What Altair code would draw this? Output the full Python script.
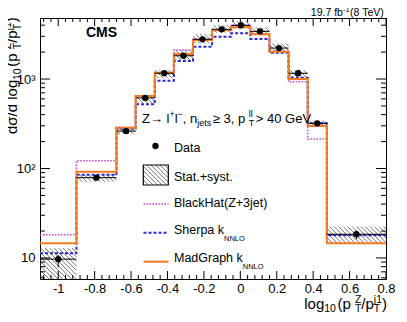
import altair as alt
import numpy as np
import pandas as pd

# ---------------- data ----------------
bin_edges = [-1.1, -0.9, -0.68, -0.575, -0.47, -0.365, -0.26, -0.155, -0.05,
             0.055, 0.16, 0.265, 0.37, 0.475, 0.8]
data_vals = [9.7, 79, 262, 615, 1160, 1820, 2780, 3590, 3980, 3410, 2220, 1160, 320, 18.4]
data_lo = [7.9, 76, 254, 600, 1140, 1790, 2740, 3540, 3930, 3360, 2190, 1140, 314, 16.2]
data_hi = [10.8, 82, 270, 630, 1180, 1850, 2820, 3640, 4030, 3460, 2250, 1180, 326, 20.2]
band_lo = [4.0, 71, 243, 540, 1020, 1630, 2500, 3300, 3660, 3100, 2020, 1020, 298, 14.6]
band_hi = [12.9, 86.6, 281, 662, 1260, 2110, 3180, 4010, 4440, 3780, 2500, 1260, 343, 22.4]
madgraph = [14.6, 92, 286, 646, 1175, 1900, 2730, 3520, 3790, 3160, 2020, 1000, 298, 14.6]
sherpa = [11.3, 85, 278, 522, 957, 1590, 2300, 2970, 3240, 2800, 1970, 1035, 320, 18.0]
blackhat = [18.2, 122, 290, 640, 1175, 2110, 2780, 3560, 4010, 3200, 2050, 933, 214, 18.0]

x_major = [-1, -0.8, -0.6, -0.4, -0.2, 0, 0.2, 0.4, 0.6, 0.8]
y_major = [10, 100, 1000]
y_minor = [6, 7, 8, 9, 20, 30, 40, 50, 60, 70, 80, 90,
           200, 300, 400, 500, 600, 700, 800, 900, 2000, 3000, 4000]

# ---------------- layout constants ----------------
FONT = "Liberation Sans"
X_MIN, X_MAX = -1.1, 0.8
Y_MIN, Y_MAX = 5.82, 4810.0
PAD_L, PAD_T, PAD_R, PAD_B = 32, 10, 13, 35
W, H = 346, 261
OX, OY = 8 + PAD_L, 8 + PAD_T          # page position of the plot origin
ORANGE = "#f47a22"
BLUE = "#2a2ad0"
MAGENTA = "#cc44cc"
HATCH = "#555555"

x_minor = [round(v, 2) for v in np.arange(-1.08, 0.8, 0.04)
           if min(abs(v - m) for m in x_major) > 1e-6]

KX = W / (X_MAX - X_MIN)
LT, LB = np.log10(Y_MAX), np.log10(Y_MIN)
KY = H / (LT - LB)


def px(page_x):
    return page_x - OX


def py(page_y):
    return page_y - OY


def to_px(x, y):
    return (x - X_MIN) * KX, (LT - np.log10(y)) * KY


def to_data(qx, qy):
    return X_MIN + qx / KX, 10 ** (LT - qy / KY)


def hatch_rows(x0, x1, lo, hi, step=4.5):
    px0, py1 = to_px(x0, lo)
    px1, py0 = to_px(x1, hi)
    rows = []
    c = np.floor((py0 - px1) / step) * step
    while c <= py1 - px0:
        a = max(px0, py0 - c)
        b = min(px1, py1 - c)
        if b - a > 0.3:
            xa, ya = to_data(a, a + c)
            xb, yb = to_data(b, b + c)
            rows.append(dict(x=xa, y=ya, x2=xb, y2=yb))
        c += step
    return rows


XS = alt.Scale(domain=[X_MIN, X_MAX], nice=False, zero=False)
YS = alt.Scale(type="log", domain=[Y_MIN, Y_MAX], nice=False)
X_AXIS = alt.Axis(values=x_major, labelExpr="'' + datum.value", ticks=False, domain=False,
                  grid=False, title=None, labelFont=FONT, labelFontSize=13, labelColor="black",
                  labelPadding=3, labelFlush=False, labelOverlap=False, labelBaseline="top")
Y_AXIS = alt.Axis(values=y_major,
                  labelExpr="datum.value >= 1000 ? '10³' : datum.value >= 100 ? '10²' : '10'",
                  ticks=False, domain=False, grid=False, title=None, labelFont=FONT,
                  labelFontSize=13, labelColor="black", labelPadding=5, labelFlush=False,
                  labelOverlap=False, labelBaseline="middle")


def xenc(f="x"):
    return alt.X(f"{f}:Q", scale=XS, axis=X_AXIS)


def yenc(f="y"):
    return alt.Y(f"{f}:Q", scale=YS, axis=Y_AXIS)


layers = []

# hatched uncertainty band
hrows = []
for i in range(len(data_vals)):
    hrows += hatch_rows(bin_edges[i], bin_edges[i + 1], band_lo[i], band_hi[i])
layers.append(alt.Chart(pd.DataFrame(hrows)).mark_rule(color=HATCH, strokeWidth=0.8, clip=True)
              .encode(x=xenc(), x2="x2:Q", y=yenc(), y2="y2:Q"))

# model step histograms
for vals, col, dash, sw in [(blackhat, MAGENTA, [1.5, 1.5], 1.5),
                            (sherpa, BLUE, [3, 2], 2),
                            (madgraph, ORANGE, None, 2)]:
    df = pd.DataFrame({"x": bin_edges, "y": list(vals) + [vals[-1]]})
    kw = dict(interpolate="step-after", color=col, strokeWidth=sw, clip=True)
    if dash:
        kw["strokeDash"] = dash
    layers.append(alt.Chart(df).mark_line(**kw).encode(x=xenc(), y=yenc()))

# data points with errors
centers = [(bin_edges[i] + bin_edges[i + 1]) / 2 for i in range(len(data_vals))]
ddf = pd.DataFrame({"x": centers, "xl": bin_edges[:-1], "xh": bin_edges[1:],
                    "y": data_vals, "lo": data_lo, "hi": data_hi})
layers.append(alt.Chart(ddf).mark_rule(color="black", strokeWidth=1)
              .encode(x=xenc("xl"), x2="xh:Q", y=yenc()))
layers.append(alt.Chart(ddf).mark_rule(color="black", strokeWidth=1)
              .encode(x=xenc(), y=yenc("lo"), y2="hi:Q"))
layers.append(alt.Chart(ddf).mark_circle(color="black", size=40, opacity=1)
              .encode(x=xenc(), y=yenc()))

# ticks (inside the frame, on all four sides)
for vals, ln in [(x_major, 8), (x_minor, 4)]:
    d = pd.DataFrame({"x": vals})
    layers.append(alt.Chart(d).mark_rule(color="black").encode(
        x=xenc(), y=alt.value(H), y2=alt.value(H - ln)))
    layers.append(alt.Chart(d).mark_rule(color="black").encode(
        x=xenc(), y=alt.value(0), y2=alt.value(ln)))
for vals, ln in [(y_major, 10), (y_minor, 5)]:
    d = pd.DataFrame({"y": vals})
    layers.append(alt.Chart(d).mark_rule(color="black").encode(
        y=yenc(), x=alt.value(0), x2=alt.value(ln)))
    layers.append(alt.Chart(d).mark_rule(color="black").encode(
        y=yenc(), x=alt.value(W), x2=alt.value(W - ln)))

# ---------------- text helpers ----------------
AW = {' ': 278, '(': 333, ')': 333, '+': 584, '-': 333, '.': 278, '/': 278, ',': 278,
      '→': 1000, '≥': 549, '>': 584, 'σ': 600, '−': 584,
      'A': 667, 'B': 667, 'C': 722, 'D': 722, 'G': 778, 'H': 722, 'K': 667, 'L': 556,
      'M': 833, 'N': 722, 'O': 778, 'S': 667, 'T': 611, 'V': 667, 'Z': 611,
      'a': 556, 'b': 556, 'c': 500, 'd': 556, 'e': 556, 'f': 278, 'g': 556, 'h': 556,
      'i': 222, 'j': 222, 'k': 500, 'l': 222, 'm': 833, 'n': 556, 'o': 556, 'p': 556,
      'r': 333, 's': 500, 't': 278, 'u': 556, 'v': 500, 'x': 500, 'y': 500}


def tw(s, size):
    return sum(AW.get(c, 556) for c in s) * size / 1000.0


def text_layer(txt, x, y, size, bold=False, angle=0, align="left"):
    kw = dict(font=FONT, fontSize=size, align=align, baseline="alphabetic", color="black")
    if bold:
        kw["fontWeight"] = "bold"
    if angle:
        kw["angle"] = angle
    return alt.Chart(alt.Data(values=[{}])).mark_text(**kw).encode(
        x=alt.value(x), y=alt.value(y), text=alt.value(txt))


def run(groups, x0, y0, vertical=False):
    """groups: list of stacked pieces [(text, size, dy), ...] or a number (extra gap)."""
    out = []
    pos = 0.0
    for grp in groups:
        if isinstance(grp, (int, float)):
            pos += grp
            continue
        adv = 0.0
        for (t, s, dy) in grp:
            if vertical:
                out.append(text_layer(t, x0 + dy, y0 - pos, s, angle=270))
            else:
                out.append(text_layer(t, x0 + pos, y0 + dy, s))
            adv = max(adv, tw(t, s))
        pos += adv
    return out


def width_of(groups):
    tot = 0.0
    for grp in groups:
        if isinstance(grp, (int, float)):
            tot += grp
        else:
            tot += max(tw(t, s) for (t, s, _) in grp)
    return tot


# CMS label and luminosity
layers.append(text_layer("CMS", px(86), py(37.3), 14, bold=True))
lumi = [[("19.7 fb", 10.5, 0)], [("-1", 7.5, -3.5)], 0.5, [(" (8 TeV)", 10.5, 0)]]
layers += run(lumi, px(388) - width_of(lumi), py(15.8))

# process label
proc = [[("Z→ l", 13, 0)], [("+", 9, -5.5)], [("l", 13, 0)], [("−", 9, -5.5)],
        [(", n", 13, 0)], [("jets", 9, 3.5)], 1.5, [(" ≥ 3, p", 13, 0)],
        [("ll", 9, -5.5), ("T", 9, 3.5)], 1.5, [(" > 40 GeV", 13, 0)]]
layers += run(proc, px(142), py(122.5))

# legend
layers.append(alt.Chart(alt.Data(values=[{}])).mark_circle(color="black", size=40, opacity=1)
              .encode(x=alt.value(px(155.5)), y=alt.value(py(146))))
layers.append(text_layer("Data", px(174), py(151.7), 12.5))
bx0, by0 = to_data(px(143.3), py(165))
bx1, by1 = to_data(px(168.3), py(185))
layers.append(alt.Chart(pd.DataFrame(hatch_rows(bx0, bx1, by1, by0)))
              .mark_rule(color=HATCH, strokeWidth=0.8)
              .encode(x=xenc(), x2="x2:Q", y=yenc(), y2="y2:Q"))
layers.append(alt.Chart(pd.DataFrame([{"x": bx0, "x2": bx1, "y": by1, "y2": by0}]))
              .mark_rect(fill=None, stroke="black", strokeWidth=1.2)
              .encode(x=xenc(), x2="x2:Q", y=yenc(), y2="y2:Q"))
layers.append(text_layer("Stat.+syst.", px(174), py(181), 12.5))

for ly, col, dash, sw in [(204, MAGENTA, [1.5, 1.5], 1.5), (232.7, BLUE, [3, 2], 2),
                          (261.7, ORANGE, None, 2)]:
    kw = dict(color=col, strokeWidth=sw)
    if dash:
        kw["strokeDash"] = dash
    layers.append(alt.Chart(alt.Data(values=[{}])).mark_rule(**kw).encode(
        x=alt.value(px(143.5)), x2=alt.value(px(168.5)), y=alt.value(py(ly))))
layers.append(text_layer("BlackHat(Z+3jet)", px(174), py(206.7), 12.5))
layers += run([[("Sherpa k", 12.5, 0)], [("NNLO", 7.5, 6.7)]], px(174), py(234))
layers += run([[("MadGraph k", 12.5, 0)], [("NNLO", 7.5, 7)]], px(174), py(262.3))

# axis titles
xt = [[("log", 15, 0)], [("10", 10.5, 3.5)], 1.5, [(" (p", 15, 0)],
      [("Z", 10.5, -5.5), ("T", 10.5, 3.5)], [("/p", 15, 0)],
      [("j1", 10.5, -5.5), ("T", 10.5, 3.5)], [(")", 15, 0)]]
layers += run(xt, px(387) - width_of(xt), py(308.5))
yt = [[("dσ/d log", 15, 0)], [("10", 10.5, 3.5)], 1.5, [(" (p", 15, 0)],
      [("Z", 10.5, -6), ("T", 10.5, 3.5)], [("/p", 15, 0)],
      [("j1", 10.5, -6), ("T", 10.5, 3.5)], [(")", 15, 0)]]
layers += run(yt, px(17), py(134), vertical=True)

chart = alt.layer(*layers).properties(
    width=W, height=H,
    autosize=alt.AutoSizeParams(type="none"),
    padding={"left": PAD_L, "top": PAD_T, "right": PAD_R, "bottom": PAD_B},
    background="white",
).configure_view(stroke="black", strokeWidth=1)

chart.save("out.html", embed_options={"renderer": "svg", "actions": False})
